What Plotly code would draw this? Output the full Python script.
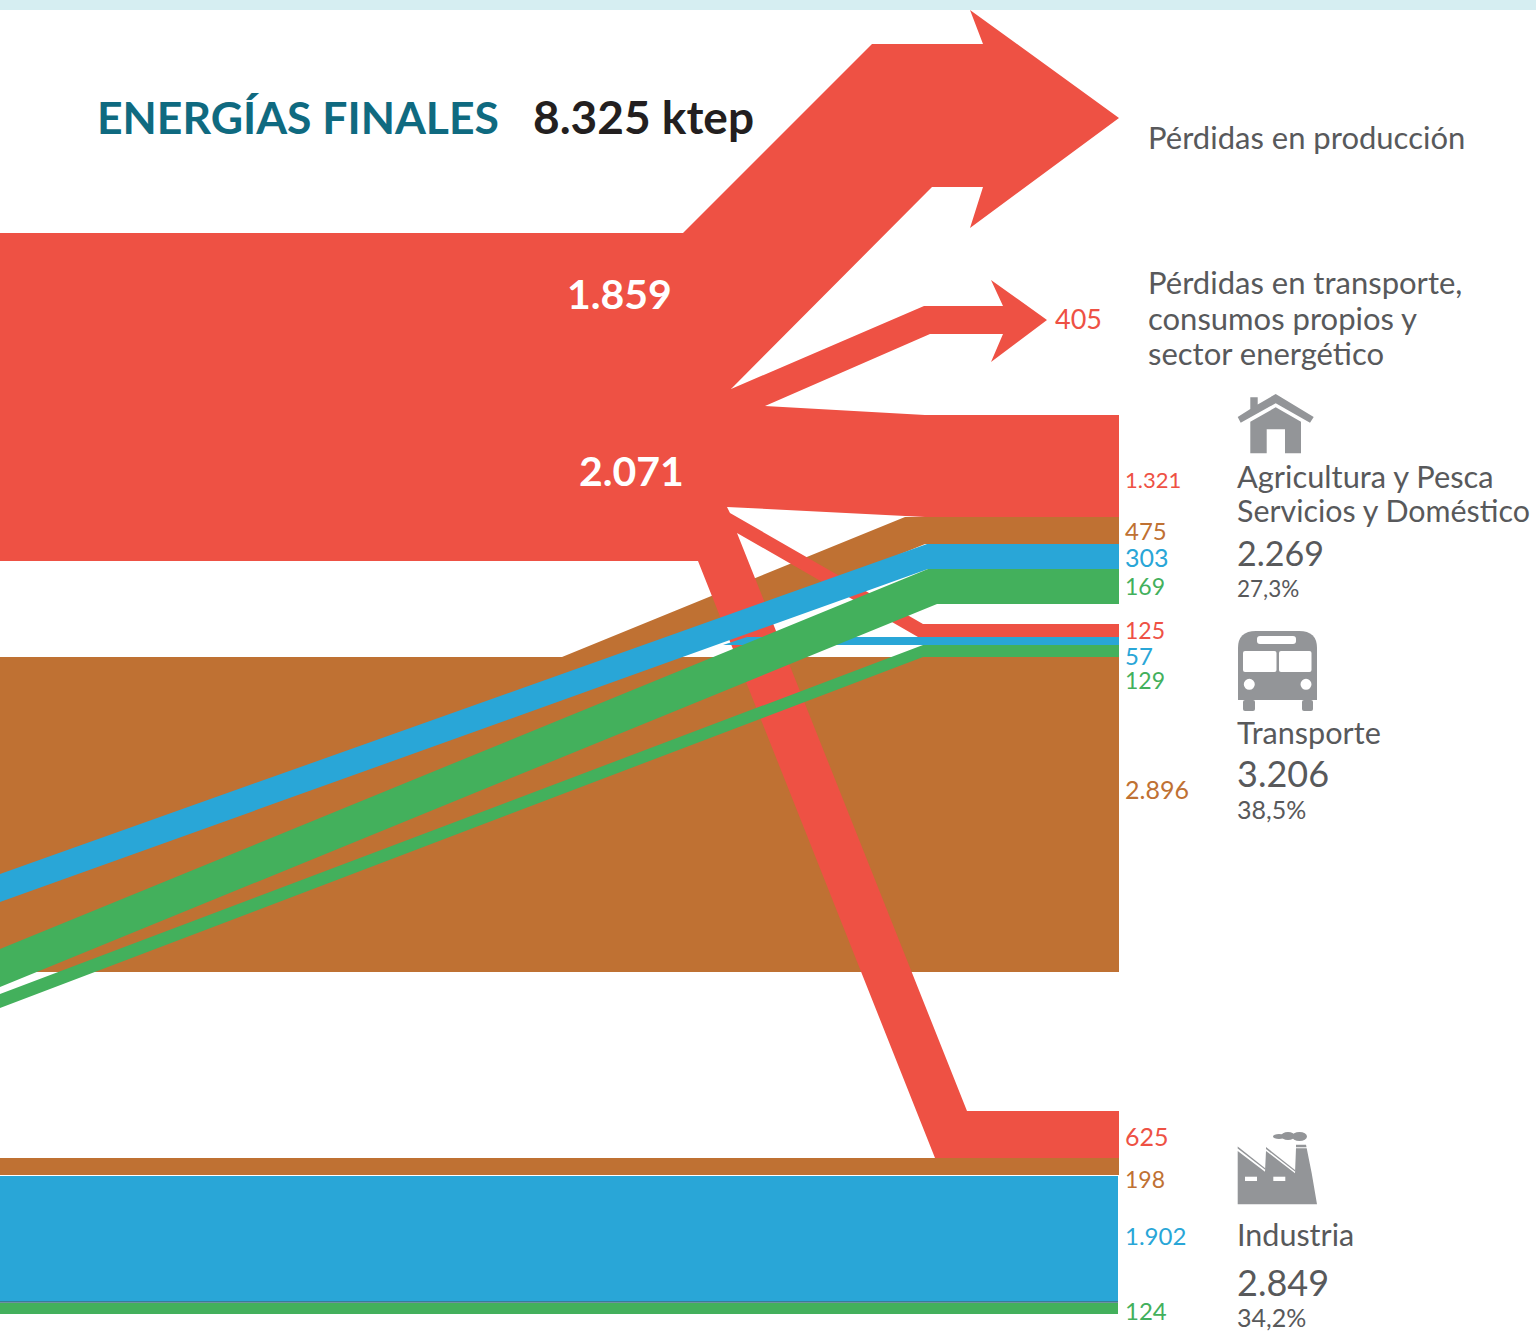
import plotly.graph_objects as go

RED, BROWN, BLUE, GREEN = "#ee5144", "#bf7133", "#29a6d7", "#43b05c"
GREY, ICON, TEAL, INK = "#58595b", "#939598", "#0f6a80", "#231f20"
FONT = "Lato"

# Bands, back to front: name, colour, outline x, outline y (image scale)
brown_x = [0, 562, 905, 1119, 1119, 925, 650, 1119, 1119, 0]
brown_y = [657, 657, 517, 517, 544, 544, 657, 657, 972, 972]
brown_ind_x = [0, 1119, 1119, 0]
brown_ind_y = [1158, 1158, 1175, 1175]
blue_ind_x = [0, 1118, 1118, 0]
blue_ind_y = [1176, 1176, 1302, 1302]
green_ind_x = [0, 1118, 1118, 0]
green_ind_y = [1303, 1303, 1314, 1314]
red_main_x = [0, 683, 872, 983, 970, 1119, 970, 983, 932, 731, 924, 1003, 991, 1047, 991, 1003, 930, 765,
              925, 1119, 1119, 925, 727, 730, 923, 1119, 1119, 918, 737, 967, 1119, 1119, 935, 698, 0]
red_main_y = [233, 233, 44, 44, 10, 118, 228, 187, 187, 389, 306, 306, 280, 320, 362, 334, 334, 406,
              415, 415, 517, 517, 507, 513, 624, 624, 637, 637, 533, 1111, 1111, 1158, 1158, 561, 561]
blue_a_x = [0, 927, 1119, 1119, 928, 0]
blue_a_y = [874, 544, 544, 569, 569, 902]
blue_b_x = [747, 1119, 1119, 723]
blue_b_y = [637, 637, 645, 645]
green_a_x = [0, 928, 1119, 1119, 937, 0]
green_a_y = [949, 569, 569, 604, 604, 987]
green_b_x = [0, 923, 1119, 1119, 923, 0]
green_b_y = [994, 645, 645, 657, 657, 1008]

bands = [
    ("Carbón/petróleo", BROWN, brown_x, brown_y),
    ("Petróleo industria", BROWN, brown_ind_x, brown_ind_y),
    ("Electricidad", RED, red_main_x, red_main_y),
    ("Gas industria", BLUE, blue_ind_x, blue_ind_y),
    ("Renovables industria", GREEN, green_ind_x, green_ind_y),
    ("Gas edificios", BLUE, blue_a_x, blue_a_y),
    ("Gas transporte", BLUE, blue_b_x, blue_b_y),
    ("Renovables edificios", GREEN, green_a_x, green_a_y),
    ("Renovables transporte", GREEN, green_b_x, green_b_y),
]

# Value labels at the end of the bands
value_labels = ["1.321", "475", "303", "169", "125", "57", "129", "2.896", "625", "198", "1.902", "124", "405"]
value_colors = [RED, BROWN, BLUE, GREEN, RED, BLUE, GREEN, BROWN, RED, BROWN, BLUE, GREEN, RED]
value_x = [1125] * 12 + [1055]
value_y = [479, 530, 557, 586, 630, 655, 680, 789, 1136, 1179, 1235, 1310, 318]
value_size = [22, 24, 25, 23, 23, 24, 23, 25, 25, 23, 24, 24, 27]

# Descriptive text: text, x, y, size, colour, bold
texts = [
    ("ENERGÍAS FINALES", 97, 116, 44.5, TEAL, True),
    ("8.325 ktep", 533, 116, 46, INK, True),
    ("1.859", 567, 293, 41, "white", True),
    ("2.071", 579, 470, 41, "white", True),
    ("Pérdidas en producción", 1148, 137, 31, GREY, False),
    ("Pérdidas en transporte,", 1148, 282, 31, GREY, False),
    ("consumos propios y", 1148, 318, 31, GREY, False),
    ("sector energético", 1148, 353, 31, GREY, False),
    ("Agricultura y Pesca", 1237, 476, 30.8, GREY, False),
    ("Servicios y Doméstico", 1237, 510, 30.4, GREY, False),
    ("2.269", 1237, 552, 34, GREY, False),
    ("27,3%", 1237, 588, 22.5, GREY, False),
    ("Transporte", 1237, 732, 30.6, GREY, False),
    ("3.206", 1237, 773, 36, GREY, False),
    ("38,5%", 1237, 809, 25, GREY, False),
    ("Industria", 1237, 1234, 30.5, GREY, False),
    ("2.849", 1237, 1282, 36, GREY, False),
    ("34,2%", 1237, 1317, 25, GREY, False),
]

fig = go.Figure()
for name, color, xs, ys in bands:
    fig.add_trace(go.Scatter(x=xs, y=ys, name=name, mode="lines", fill="toself", fillcolor=color,
                             line=dict(width=0, color=color), hoverinfo="name", showlegend=False))

shapes = [
    dict(type="rect", x0=0, x1=1536, y0=0, y1=10, fillcolor="#d6eef2", line_width=0),
    dict(type="line", x0=0, x1=1118, y0=1302, y1=1302, line=dict(color="#3f6d85", width=1.5)),
]


def icon(path, fill=ICON):
    shapes.append(dict(type="path", path=path, fillcolor=fill, line_width=0))


def rrect(x0, y0, x1, y1, r):
    return (f"M{x0+r},{y0} L{x1-r},{y0} Q{x1},{y0} {x1},{y0+r} L{x1},{y1-r} Q{x1},{y1} {x1-r},{y1} "
            f"L{x0+r},{y1} Q{x0},{y1} {x0},{y1-r} L{x0},{y0+r} Q{x0},{y0} {x0+r},{y0} Z")


# House
icon("M1275.7,394 L1313.7,417 L1310,422.7 L1275.7,403.3 L1240.7,422.7 L1237.7,417 L1250.3,409 "
     "L1250.3,397.3 L1257.7,397.3 L1257.7,404.5 Z")
icon("M1275.7,407.3 L1301,421.7 L1301,453.3 L1285,453.3 L1285,429.3 L1266.7,429.3 L1266.7,453.3 "
     "L1250.3,453.3 L1250.3,421.7 Z")
# Bus
icon("M1238,700 L1238,648 Q1238,631 1256,631 L1299,631 Q1317,631 1317,648 L1317,700 Z")
icon(rrect(1243, 700, 1255, 711, 2))
icon(rrect(1302, 700, 1313, 711, 2))
for box in [(1257, 636, 1296, 644, 3), (1243, 651, 1276.5, 672, 2), (1279, 651, 1311.5, 672, 2)]:
    icon(rrect(*box), "white")
for cx in (1249.3, 1306):
    shapes.append(dict(type="circle", x0=cx - 5.5, x1=cx + 5.5, y0=678.8, y1=689.8, fillcolor="white", line_width=0))
# Factory
icon("M1237.7,1151 L1265,1171.7 L1266,1151 L1295,1173.3 L1296,1148.3 L1306.7,1148.3 L1311.7,1173.3 "
     "L1317,1204.3 L1237.7,1204.3 Z")
icon("M1237.7,1146.5 L1265.5,1168.5 L1265.5,1170 L1237.7,1148.5 Z")
icon("M1266,1147 L1295,1170 L1295,1171.5 L1266,1149 Z")
icon("M1296,1144.7 L1306,1144.7 L1306.5,1147.3 L1296,1147.3 Z")
for wx in (1245, 1273.3):
    icon(f"M{wx},1176.7 L{wx+12},1176.7 L{wx+12},1181 L{wx},1181 Z", "white")
for x0, x1, y0, y1 in [(1273, 1285, 1134, 1139), (1281, 1295, 1132, 1140), (1292, 1307, 1132, 1141)]:
    shapes.append(dict(type="circle", x0=x0, x1=x1, y0=y0, y1=y1, fillcolor=ICON, line_width=0))

annotations = []
for t, x, y, size, color, bold in texts:
    annotations.append(dict(x=x, y=y, text=f"<b>{t}</b>" if bold else t, xanchor="left", yanchor="middle",
                            showarrow=False, xshift=-2, font=dict(family=FONT, size=size, color=color)))
for t, c, x, y, s in zip(value_labels, value_colors, value_x, value_y, value_size):
    annotations.append(dict(x=x, y=y, text=t, xanchor="left", yanchor="middle", showarrow=False, xshift=-2,
                            font=dict(family=FONT, size=s, color=c)))

fig.update_layout(
    width=1536, height=1331, margin=dict(l=0, r=0, t=0, b=0),
    paper_bgcolor="white", plot_bgcolor="white", showlegend=False,
    xaxis=dict(range=[0, 1536], visible=False, fixedrange=True),
    yaxis=dict(range=[1331, 0], visible=False, fixedrange=True),
    shapes=shapes, annotations=annotations,
)
fig.write_html("out.html", config={"displayModeBar": False},
               post_script="document.body.style.margin='0';document.body.style.overflow='hidden';")
